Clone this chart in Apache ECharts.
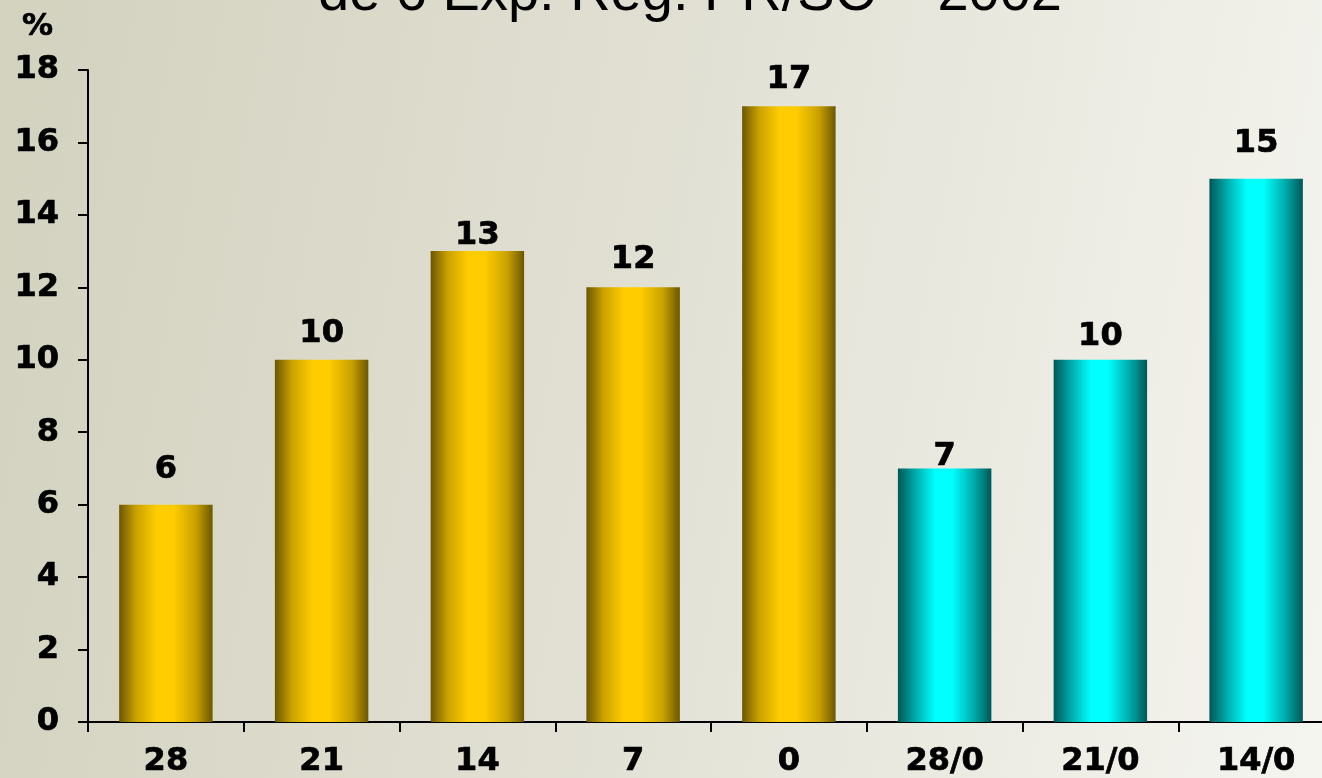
<!DOCTYPE html>
<html>
<head>
<meta charset="utf-8">
<script src="https://cdn.jsdelivr.net/npm/echarts@6/dist/echarts.min.js"></script>
<style>
  html, body { margin: 0; padding: 0; }
  #chart {
    width: 1322px;
    height: 778px;
    background: linear-gradient(100deg, #d3d2bf 0%, #e0dfd2 45%, #f5f5f0 100%);
  }
</style>
</head>
<body>
<div id="chart"></div>
<script>
// data
const categories = ["28", "21", "14", "7", "0", "28/0", "21/0", "14/0"];
const values = [6, 10, 13, 12, 17, 7, 10, 15];
const groups = ["a", "a", "a", "a", "a", "b", "b", "b"];
const yTicks = { min: 0, max: 18, interval: 2 };

// label distance above each bar (the original labels sit a bit unevenly)
const labelGap = [19, 10, -1, 12, 11, -4, 7, 19];

const barFill = (dark, mid, light) => ({
  type: "linear", x: 0, y: 0, x2: 1, y2: 0,
  colorStops: [
    { offset: 0, color: dark },
    { offset: 0.18, color: mid },
    { offset: 0.4, color: light },
    { offset: 0.58, color: light },
    { offset: 0.82, color: mid },
    { offset: 1, color: dark },
  ],
});
const fills = {
  a: barFill("#6b5700", "#c9a100", "#ffcc00"),
  b: barFill("#005757", "#00a8a8", "#00ffff"),
};

const chart = echarts.init(document.getElementById("chart"), null, { renderer: "canvas" });
// a thin same-colour outline makes DejaVu look closer to the heavy Verdana bold of the original
const boldFont = {
  fontFamily: "DejaVu Sans", fontWeight: "bold", fontSize: 32, color: "#000",
  textBorderColor: "#000", textBorderWidth: 0.7,
};

chart.setOption({
  animation: false,
  title: {
    text: "de 6 Exp. Reg. PR/SC \u2013 2002",
    left: 313,
    top: -38,
    textStyle: { fontFamily: "Liberation Sans", fontWeight: "normal", fontSize: 56, color: "#000" },
  },
  grid: { left: 88, top: 70, width: 1246, height: 652, outerBoundsMode: "none", containLabel: false },
  xAxis: {
    type: "category",
    data: categories,
    axisLine: { lineStyle: { color: "#000", width: 2 } },
    axisTick: { show: true, length: 10, lineStyle: { color: "#000", width: 2 } },
    axisLabel: { ...boldFont, margin: 24 },
  },
  yAxis: {
    type: "value",
    min: yTicks.min,
    max: yTicks.max,
    interval: yTicks.interval,
    name: "%",
    nameLocation: "end",
    nameGap: 28,
    nameTextStyle: { ...boldFont, fontSize: 31, align: "right", verticalAlign: "bottom", padding: [0, 35, 0, 0] },
    axisLine: { show: true, lineStyle: { color: "#000", width: 2 } },
    axisTick: { show: true, length: 10, lineStyle: { color: "#000", width: 2 } },
    splitLine: { show: false },
    axisLabel: { ...boldFont, margin: 29 },
  },
  series: [
    {
      type: "bar",
      barWidth: "60%",
      data: values.map((v, i) => ({
        value: v,
        itemStyle: { color: fills[groups[i]] },
        label: { distance: labelGap[i] },
      })),
      label: { show: true, position: "top", ...boldFont },
    },
  ],
});
</script>
</body>
</html>
